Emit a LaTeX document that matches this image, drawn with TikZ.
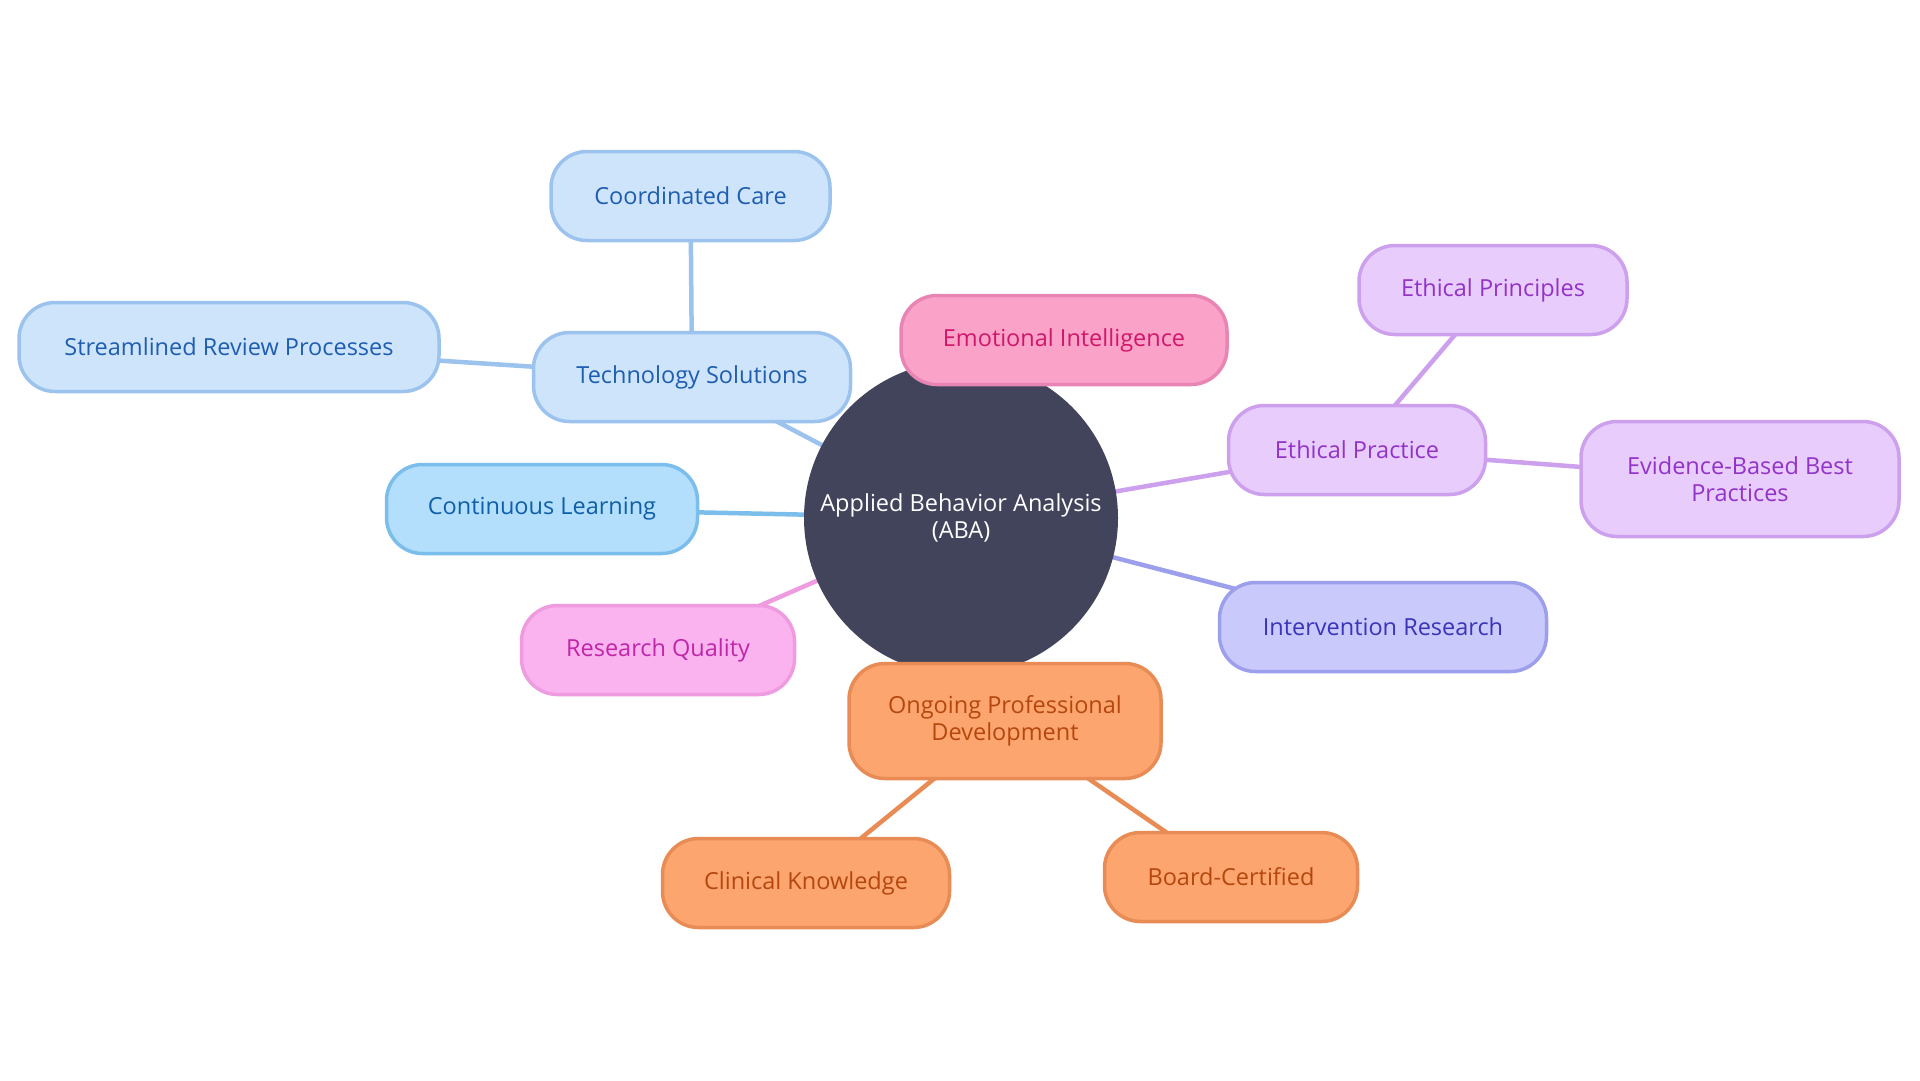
\documentclass[tikz,border=0pt]{standalone}
\usepackage{fontspec}
\setmainfont{Open Sans}
\usetikzlibrary{backgrounds}
\definecolor{bfill}{HTML}{CEE4FB}\definecolor{bdraw}{HTML}{9CC2EE}\definecolor{btext}{HTML}{1E5DB0}
\definecolor{cfill}{HTML}{B3DFFC}\definecolor{cdraw}{HTML}{7BBDEB}\definecolor{ctext}{HTML}{0F5FA8}
\definecolor{rfill}{HTML}{FBB3F0}\definecolor{rdraw}{HTML}{EF9BE0}\definecolor{rtext}{HTML}{C026A8}
\definecolor{efill}{HTML}{FBA2C9}\definecolor{edraw}{HTML}{E985B4}\definecolor{etext}{HTML}{D0176B}
\definecolor{pfill}{HTML}{E8CCFC}\definecolor{pdraw}{HTML}{CDA0EE}\definecolor{ptext}{HTML}{9233C8}
\definecolor{ifill}{HTML}{C9C9FC}\definecolor{idraw}{HTML}{9C9FEB}\definecolor{itext}{HTML}{3A34B8}
\definecolor{ofill}{HTML}{FDA56F}\definecolor{odraw}{HTML}{E88B55}\definecolor{otext}{HTML}{B5470E}
\definecolor{core}{HTML}{41445A}
\tikzset{
  box/.style={rounded corners=36pt, line width=3.5pt, minimum height=89pt, align=center,
    font=\fontsize{23.5}{27}\selectfont, inner sep=0pt},
  bluebox/.style={box, fill=bfill, draw=bdraw, text=btext},
  cyanbox/.style={box, fill=cfill, draw=cdraw, text=ctext},
  rosebox/.style={box, fill=rfill, draw=rdraw, text=rtext},
  pinkbox/.style={box, fill=efill, draw=edraw, text=etext},
  purplebox/.style={box, fill=pfill, draw=pdraw, text=ptext},
  indigobox/.style={box, fill=ifill, draw=idraw, text=itext},
  orangebox/.style={box, fill=ofill, draw=odraw, text=otext},
  link/.style={line width=4.5pt},
}
\begin{document}
\begin{tikzpicture}[x=1pt,y=-1pt]
\useasboundingbox (0,0) rectangle (1920,1080);
\node[circle, fill=core, minimum size=314pt, inner sep=0pt, text=white, align=center,
  font=\fontsize{23.5}{27}\selectfont] (aba) at (961,518) {Applied Behavior Analysis\\(ABA)};
\node[bluebox, minimum width=279pt] (cc) at (690.5,196) {Coordinated Care};
\node[bluebox, minimum width=317pt] (ts) at (692,377) {Technology Solutions};
\node[bluebox, minimum width=420pt] (srp) at (229,347) {Streamlined Review Processes};
\node[cyanbox, minimum width=311pt] (cl) at (542,509) {Continuous Learning};
\node[rosebox, minimum width=273pt] (rq) at (658,650) {Research Quality};
\node[pinkbox, minimum width=326pt] (ei) at (1064,340) {Emotional Intelligence};
\node[purplebox, minimum width=257pt] (ep) at (1357,450) {Ethical Practice};
\node[purplebox, minimum width=268pt] (epr) at (1493,290) {Ethical Principles};
\node[purplebox, minimum width=318pt, minimum height=115pt] (ebp) at (1740,479) {Evidence-Based Best\\Practices};
\node[indigobox, minimum width=327pt] (ir) at (1383,627) {Intervention Research};
\node[orangebox, minimum width=312pt, minimum height=115pt] (opd) at (1005,721) {Ongoing Professional\\Development};
\node[orangebox, minimum width=287pt] (ck) at (806,883) {Clinical Knowledge};
\node[orangebox, minimum width=253pt] (bc) at (1231,877) {Board-Certified};
\begin{pgfonlayer}{background}
\draw[link, bdraw] (aba.center) -- (ts.center);
\draw[link, bdraw] (ts.center) -- (cc.center);
\draw[link, bdraw] (ts.center) -- (srp.center);
\draw[link, cdraw] (aba.center) -- (cl.center);
\draw[link, rdraw] (aba.center) -- (rq.center);
\draw[link, edraw] (aba.center) -- (ei.center);
\draw[link, pdraw] (aba.center) -- (ep.center);
\draw[link, pdraw] (ep.center) -- (epr.center);
\draw[link, pdraw] (ep.center) -- (ebp.center);
\draw[link, idraw] (aba.center) -- (ir.center);
\draw[link, odraw] (aba.center) -- (opd.center);
\draw[link, odraw] (opd.center) -- (ck.center);
\draw[link, odraw] (opd.center) -- (bc.center);
\end{pgfonlayer}
\end{tikzpicture}
\end{document}
